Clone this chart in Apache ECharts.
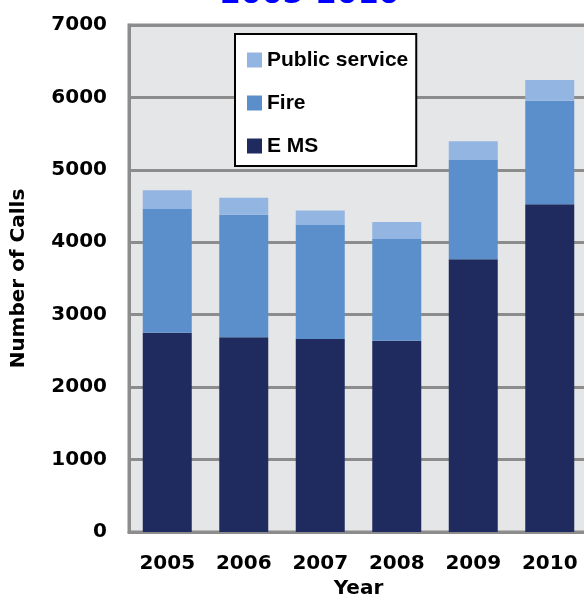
<!DOCTYPE html>
<html>
<head>
<meta charset="utf-8">
<title>Number of Calls 2005-2010</title>
<script src="https://cdn.jsdelivr.net/npm/echarts@6/dist/echarts.min.js"></script>
<style>
    html, body {margin: 0; padding: 0; background: #fff;}
    #main {width: 584px; height: 599px;}
</style>
</head>
<body>
<div id="main"></div>
<script>
    // data
    let years = ['2005', '2006', '2007', '2008', '2009', '2010'];
    let ems = [2750, 2690, 2665, 2640, 3765, 4525];
    let fire = [1710, 1690, 1575, 1405, 1370, 1430];
    let publicService = [260, 235, 200, 235, 260, 285];
    let yTicks = [0, 1000, 2000, 3000, 4000, 5000, 6000, 7000];

    let tickFont = 'DejaVu Sans';
    let gray = '#8c8c8c';

    function stackBar(name, values, color) {
        return {
            name: name,
            type: 'bar',
            stack: 'calls',
            barWidth: 49,
            data: values,
            itemStyle: {color: color},
            emphasis: {disabled: true}
        };
    }

    let chart = echarts.init(document.getElementById('main'));
    let option = {
        animation: false,
        title: {
            text: '2005-2010',
            left: 220,
            top: -20,
            padding: 0,
            textStyle: {color: '#0000ff', fontFamily: tickFont, fontWeight: 'bold', fontSize: 30, lineHeight: 30}
        },
        legend: {
            orient: 'vertical',
            left: 235,
            top: 34,
            data: ['Public service', 'Fire', 'E MS'],
            icon: 'rect',
            itemWidth: 15,
            itemHeight: 15,
            itemGap: 21,
            padding: [15, 8, 9, 12],
            backgroundColor: '#ffffff',
            borderColor: '#000000',
            borderWidth: 2,
            textStyle: {color: '#000', fontFamily: 'Liberation Sans', fontWeight: 'bold', fontSize: 21, lineHeight: 22}
        },
        grid: {
            left: 129,
            right: -4,
            top: 25,
            bottom: 67,
            outerBoundsMode: 'none',
            show: true,
            backgroundColor: '#e5e6e8',
            borderColor: gray,
            borderWidth: 3
        },
        xAxis: {
            type: 'category',
            data: years,
            name: 'Year',
            nameLocation: 'middle',
            nameGap: 46,
            nameTextStyle: {color: '#000', fontFamily: tickFont, fontWeight: 'bold', fontSize: 20},
            axisLine: {lineStyle: {color: gray, width: 3}},
            axisTick: {show: false},
            axisLabel: {color: '#000', fontFamily: tickFont, fontWeight: 'bold', fontSize: 20, margin: 22}
        },
        yAxis: {
            type: 'value',
            min: yTicks[0],
            max: yTicks[yTicks.length - 1],
            interval: 1000,
            name: 'Number of Calls',
            nameLocation: 'middle',
            nameGap: 100,
            nameTextStyle: {color: '#000', fontFamily: tickFont, fontWeight: 'bold', fontSize: 20},
            axisLine: {show: true, lineStyle: {color: gray, width: 3}},
            axisTick: {show: false},
            splitLine: {lineStyle: {color: gray, width: 3}},
            axisLabel: {
                color: '#000', fontFamily: tickFont, fontWeight: 'bold', fontSize: 20, margin: 22,
                formatter: function(v) { return String(v); }
            }
        },
        series: [
            stackBar('E MS', ems, '#1f2b5e'),
            stackBar('Fire', fire, '#5b8fcb'),
            stackBar('Public service', publicService, '#93b5e2')
        ]
    };
    chart.setOption(option);
</script>
</body>
</html>
